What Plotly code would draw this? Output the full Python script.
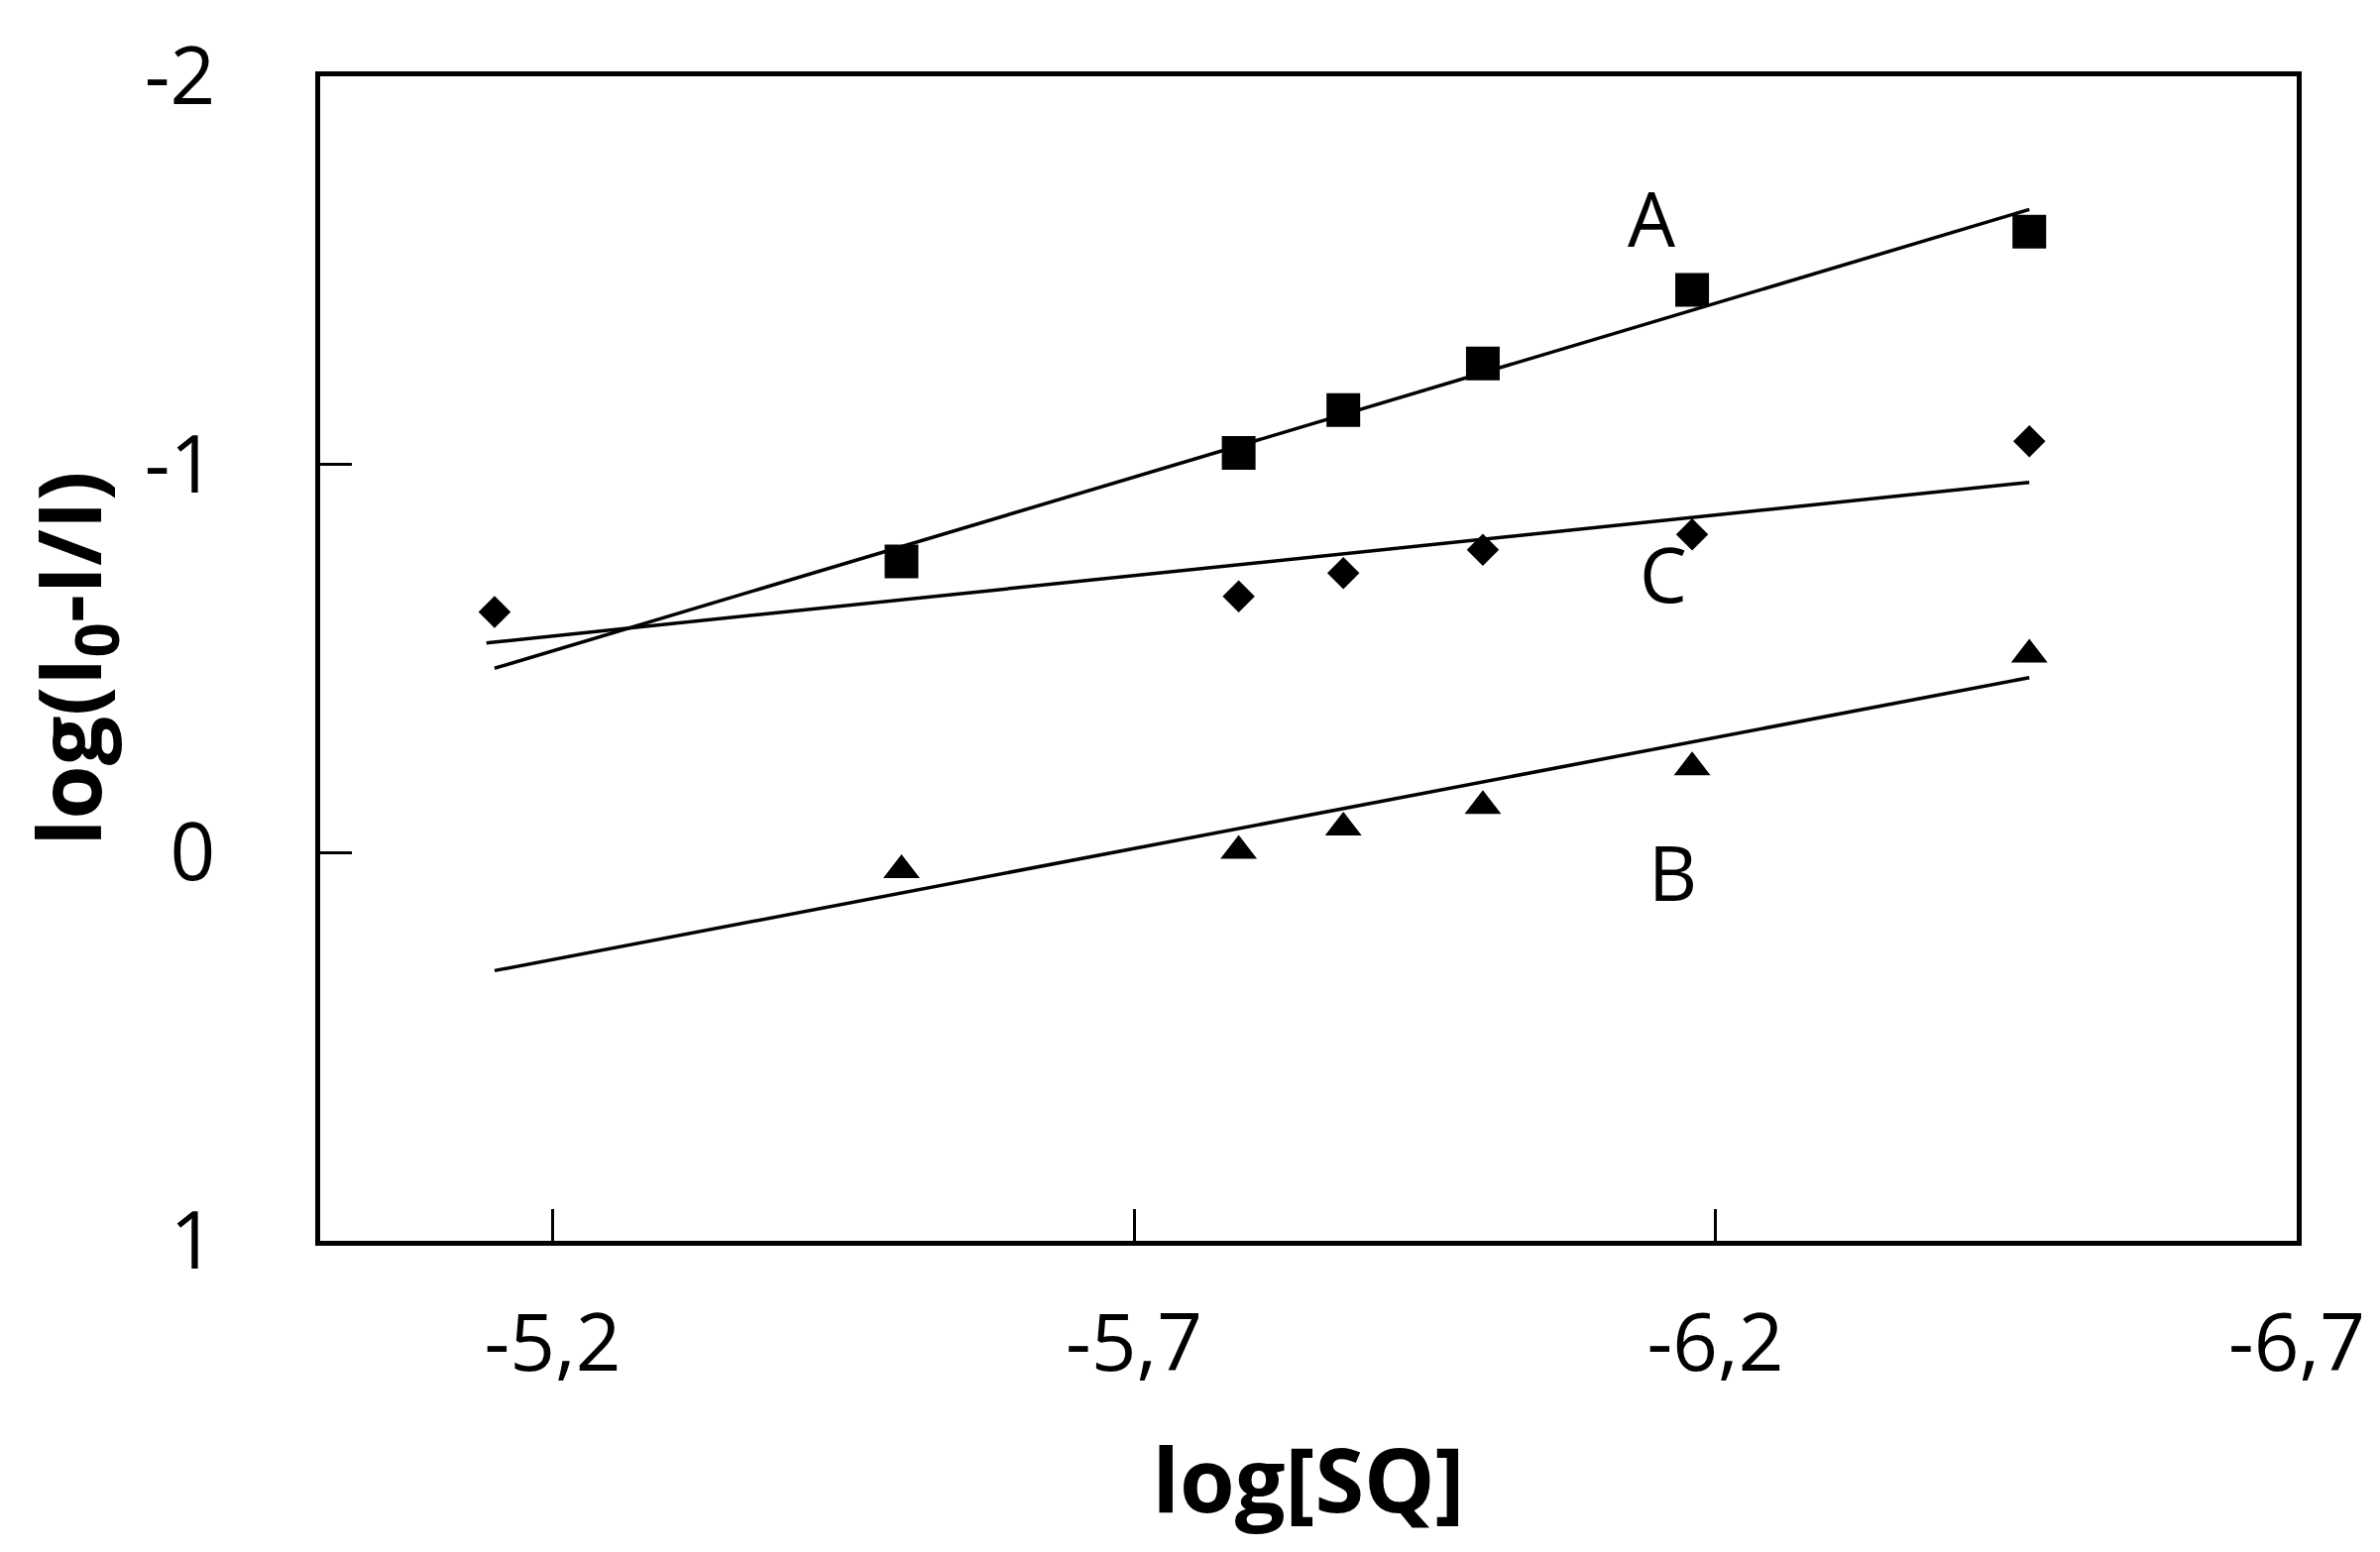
import plotly.graph_objects as go

# log[SQ] values where points were measured
x_a = [-5.50, -5.79, -5.88, -6.00, -6.18, -6.47]
y_a = [-0.75, -1.03, -1.14, -1.26, -1.45, -1.60]

x_b = [-5.50, -5.79, -5.88, -6.00, -6.18, -6.47]
y_b = [0.045, -0.005, -0.065, -0.12, -0.22, -0.51]

x_c = [-5.15, -5.79, -5.88, -6.00, -6.18, -6.47]
y_c = [-0.62, -0.66, -0.72, -0.78, -0.82, -1.06]

# fitted straight lines (end points)
fit_x_a = [-5.15, -6.47]
fit_y_a = [-0.475, -1.657]
fit_x_b = [-5.15, -6.47]
fit_y_b = [0.304, -0.451]
fit_x_c = [-5.143, -6.47]
fit_y_c = [-0.540, -0.954]

# curve labels
label_text = ["A", "B", "C"]
label_x = [-6.145, -6.163, -6.155]
label_y = [-1.635, 0.05, -0.72]

x_ticks = [-5.2, -5.7, -6.2, -6.7]
x_ticktext = ["-5,2", "-5,7", "-6,2", "-6,7"]
y_ticks = [-2, -1, 0, 1]
y_ticktext = ["-2", "-1", "0", "1"]

fig = go.Figure()

for fx, fy in [(fit_x_a, fit_y_a), (fit_x_b, fit_y_b), (fit_x_c, fit_y_c)]:
    fig.add_trace(go.Scatter(x=fx, y=fy, mode="lines",
                             line=dict(color="black", width=3.5), showlegend=False))

fig.add_trace(go.Scatter(x=x_a, y=y_a, mode="markers",
                         marker=dict(symbol="square", size=34, color="black"), showlegend=False))
fig.add_trace(go.Scatter(x=x_b, y=y_b, mode="markers",
                         marker=dict(symbol="triangle-up", size=32, color="black"), showlegend=False))
fig.add_trace(go.Scatter(x=x_c, y=y_c, mode="markers",
                         marker=dict(symbol="diamond", size=25, color="black"), showlegend=False))

for t, lx, ly in zip(label_text, label_x, label_y):
    fig.add_annotation(x=lx, y=ly, text=t, showarrow=False,
                       font=dict(family="Open Sans", size=76, color="black"))

fig.update_layout(
    width=2401, height=1566,
    margin=dict(l=315, r=92, t=69, b=322),
    plot_bgcolor="white", paper_bgcolor="white",
    font=dict(family="Open Sans", size=80, color="black"),
)

fig.update_xaxes(
    range=[-5.0, -6.7], tickvals=x_ticks, ticktext=x_ticktext,
    ticks="inside", ticklen=32, tickwidth=2.5, tickcolor="black",
    showline=True, linecolor="black", linewidth=4.5, mirror=True,
    showgrid=False, zeroline=False, ticklabelstandoff=30,
    title=dict(text="<b>log[SQ]</b>", font=dict(size=90), standoff=60),
)
fig.update_yaxes(
    range=[1, -2], tickvals=y_ticks, ticktext=y_ticktext,
    ticks="inside", ticklen=32, tickwidth=2.5, tickcolor="black",
    showline=True, linecolor="black", linewidth=4.5, mirror=True,
    showgrid=False, zeroline=False, ticklabelstandoff=85,
    title=dict(text="<b>log(I<sub>0</sub>-I/I)</b>", font=dict(size=88), standoff=45),
)

fig.write_html("out.html")
